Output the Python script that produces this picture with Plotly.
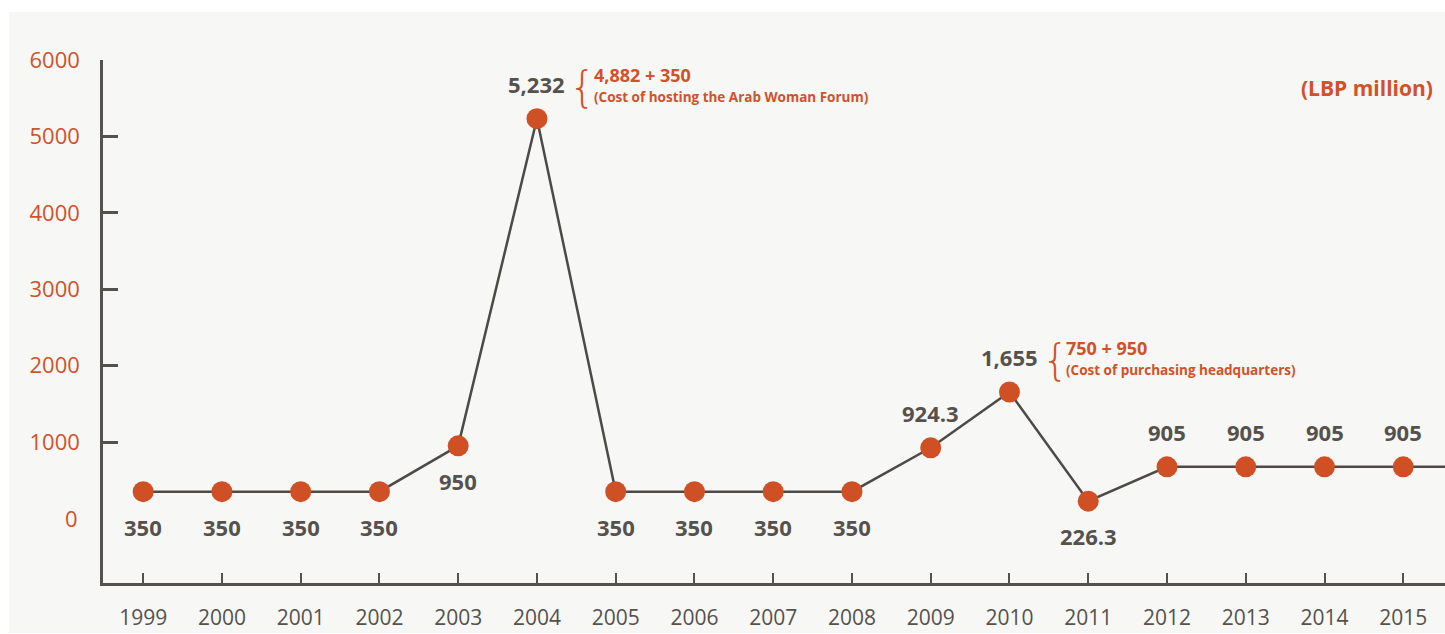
import plotly.graph_objects as go

# data (LBP million)
years = [1999, 2000, 2001, 2002, 2003, 2004, 2005, 2006, 2007, 2008,
         2009, 2010, 2011, 2012, 2013, 2014, 2015, 2016]
values = [350, 350, 350, 350, 950, 5232, 350, 350, 350, 350,
          924.3, 1655, 226.3, 675, 675, 675, 675, 675]
labels = ["350", "350", "350", "350", "950", "5,232", "350", "350", "350", "350",
          "924.3", "1,655", "226.3", "905", "905", "905", "905", ""]
label_side = ["below"] * 5 + ["above"] + ["below"] * 4 + ["above", "above", "below"] + ["above"] * 5
tick_years = list(range(1999, 2016))
y_ticks = [1000, 2000, 3000, 4000, 5000, 6000]

notes = [
    (2004, 5232, "4,882 + 350", "(Cost of hosting the Arab Woman Forum)"),
    (2010, 1655, "750 + 950", "(Cost of purchasing headquarters)"),
]

ORANGE = "#d0512a"
GREY = "#55524d"
FONT = "Open Sans"

fig = go.Figure()
fig.add_trace(go.Scatter(
    x=years, y=values, mode="lines+markers",
    line=dict(color="#4d4a45", width=2.5),
    marker=dict(color="#cf5024", size=21),
    hoverinfo="skip", showlegend=False,
))

annotations = []
for x, y, t, side in zip(years, values, labels, label_side):
    if not t:
        continue
    annotations.append(dict(
        x=x, y=y, text=t, showarrow=False,
        yshift=35 if side == "above" else -35,
        font=dict(family=FONT, size=22, color=GREY, weight="bold"),
    ))

for x, y, head, sub in notes:
    annotations.append(dict(
        x=x, y=y, text="{", showarrow=False, xanchor="center",
        xshift=46, yshift=31,
        font=dict(family="DejaVu Sans", size=42, color=ORANGE, weight=200),
    ))
    annotations.append(dict(
        x=x, y=y, text=head, showarrow=False, xanchor="left",
        xshift=55, yshift=44,
        font=dict(family=FONT, size=18, color=ORANGE, weight="bold"),
    ))
    annotations.append(dict(
        x=x, y=y, text=sub, showarrow=False, xanchor="left",
        xshift=55, yshift=22,
        font=dict(family=FONT, size=13.5, color=ORANGE, weight="bold"),
    ))

annotations.append(dict(
    xref="paper", yref="paper", x=0.9925, y=0.946, xanchor="right", yanchor="middle",
    text="(LBP million)", showarrow=False,
    font=dict(family=FONT, size=21, color=ORANGE, weight="bold"),
))
annotations.append(dict(
    xref="paper", yref="y", x=0, y=0, xanchor="right", xshift=-23,
    text="0", showarrow=False,
    font=dict(family=FONT, size=22, color=ORANGE),
))

fig.update_layout(
    width=1445, height=634,
    margin=dict(l=103, r=0, t=60, b=51),
    paper_bgcolor="white", plot_bgcolor="rgba(0,0,0,0)",
    annotations=annotations,
    shapes=[dict(type="rect", xref="paper", yref="paper", layer="below",
                 x0=-0.07, x1=1.0, y0=-0.0956, y1=1.0918,
                 fillcolor="#f7f7f5", line=dict(width=0))],
    xaxis=dict(
        range=[1998.49, 2015.53], tickvals=tick_years,
        ticks="inside", ticklen=10, tickwidth=2, tickcolor=GREY,
        showline=True, linecolor=GREY, linewidth=2.5,
        showgrid=False, zeroline=False,
        tickfont=dict(family=FONT, size=21, color=GREY),
        ticklabelstandoff=14,
    ),
    yaxis=dict(
        range=[-845, 6000], tickvals=y_ticks,
        ticks="inside", ticklen=15, tickwidth=2.5, tickcolor=GREY,
        showline=True, linecolor=GREY, linewidth=2.5,
        showgrid=False, zeroline=False,
        tickfont=dict(family=FONT, size=22, color=ORANGE),
        ticklabelstandoff=16,
    ),
)

fig.write_html("out.html", config={"displayModeBar": False},
               post_script="document.body.style.margin='0';")
